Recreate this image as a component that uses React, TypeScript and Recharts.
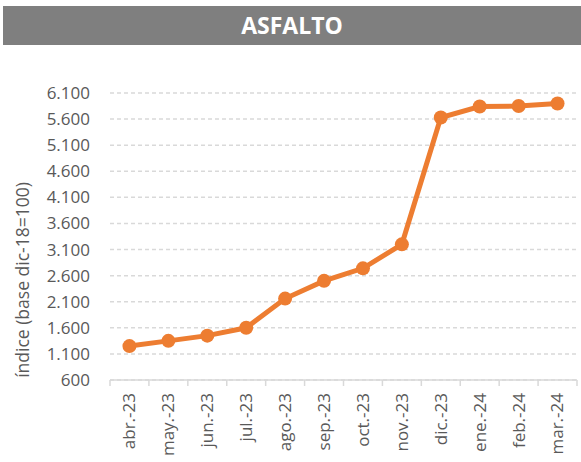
import React from 'react';
import { LineChart, Line, XAxis, YAxis, CartesianGrid, Label } from 'recharts';

const months = ['abr.-23', 'may.-23', 'jun.-23', 'jul.-23', 'ago.-23', 'sep.-23', 'oct.-23', 'nov.-23', 'dic.-23', 'ene.-24', 'feb.-24', 'mar.-24'];
const values = [1250, 1350, 1450, 1600, 2160, 2500, 2740, 3200, 5630, 5840, 5850, 5900];
const yTicks = [600, 1100, 1600, 2100, 2600, 3100, 3600, 4100, 4600, 5100, 5600, 6100];
const title = 'ASFALTO';
const yLabel = 'índice (base dic-18=100)';

const data = months.map((m, i) => ({ month: m, value: values[i] }));

const W = 581;
const H = 462;
const M = { top: 93, right: 4, left: 0, bottom: 0 };
const Y_W = 110;
const X_H = 82;
const band = (W - M.left - M.right - Y_W) / months.length;
const FONT = '"Open Sans", sans-serif';
const TXT = '#595959';
const GRID = '#d9d9d9';
const ORANGE = '#ED7D31';

const fmt = (v: number) => String(v).replace(/\B(?=(\d{3})+(?!\d))/g, '.');

const XTick = (props: any) => {
  const { x, y, payload } = props;
  const last = payload.index === months.length - 1;
  return (
    <g transform={`translate(${x},${y})`}>
      <line x1={-band / 2} x2={-band / 2} y1={0} y2={6} stroke={GRID} strokeWidth={1.5} />
      {last && <line x1={band / 2} x2={band / 2} y1={0} y2={6} stroke={GRID} strokeWidth={1.5} />}
      <text
        transform="translate(0,13) rotate(-90)"
        textAnchor="end"
        dy="0.35em"
        fill={TXT}
        fontSize={17}
        fontFamily={FONT}
      >
        {payload.value}
      </text>
    </g>
  );
};

export default function App() {
  return (
    <div style={{ position: 'absolute', left: 0, top: 0, width: W, height: H, background: '#fff' }}>
      <div
        style={{
          position: 'absolute',
          left: 3,
          top: 6,
          width: 578,
          height: 39,
          background: '#7f7f7f',
          color: '#fff',
          fontFamily: FONT,
          fontWeight: 700,
          fontSize: 23,
          lineHeight: '39px',
          textAlign: 'center',
        }}
      >
        {title}
      </div>
      <LineChart width={W} height={H} data={data} margin={M} style={{ position: 'absolute', left: 0, top: 0 }}>
        <CartesianGrid vertical={false} stroke={GRID} strokeDasharray="4 3" strokeWidth={1.5} />
        <XAxis
          dataKey="month"
          height={X_H}
          interval={0}
          padding={{ left: band / 2, right: band / 2 }}
          tickSize={0}
          tickMargin={0}
          tickLine={false}
          axisLine={{ stroke: GRID, strokeWidth: 1.5 }}
          tick={<XTick />}
        />
        <YAxis
          width={Y_W}
          domain={[600, 6100]}
          ticks={yTicks}
          interval={0}
          tickFormatter={fmt}
          axisLine={false}
          tickLine={false}
          tickSize={0}
          tickMargin={20}
          tick={{ fill: TXT, fontSize: 17, fontFamily: FONT }}
        >
          <Label
            content={() => {
              const cx = 23;
              const cy = 280;
              return (
                <text
                  x={cx}
                  y={cy}
                  transform={`rotate(-90, ${cx}, ${cy})`}
                  textAnchor="middle"
                  dy="0.35em"
                  fill={TXT}
                  fontSize={17.5}
                  fontFamily={FONT}
                >
                  {yLabel}
                </text>
              );
            }}
          />
        </YAxis>
        <Line
          type="linear"
          dataKey="value"
          stroke={ORANGE}
          strokeWidth={5}
          dot={{ r: 7, fill: ORANGE, stroke: ORANGE, strokeWidth: 0 }}
          isAnimationActive={false}
        />
      </LineChart>
    </div>
  );
}
